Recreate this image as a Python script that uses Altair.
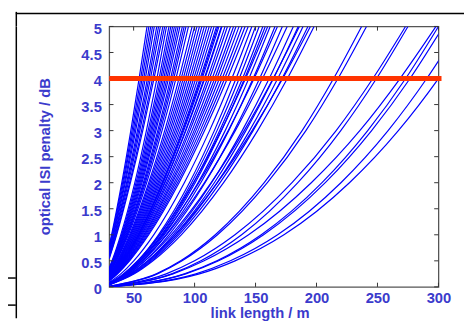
import altair as alt
import pandas as pd

# ---- curve data -----------------------------------------------------------
# each curve: penalty (dB) at 30 m, then the link length (m) at which it
# reaches 0.25, 0.5, 1, 2, 3, 4 and 5 dB (None = already above that level)
curve_y0 = [0.80, 0.76, 0.73, 0.70, 0.67, 0.63, 0.61, 0.59, 0.56, 0.54,
            0.37, 0.35, 0.34, 0.32, 0.31, 0.30, 0.29, 0.28, 0.27, 0.26, 0.25, 0.24,
            0.23, 0.22, 0.21, 0.21, 0.20, 0.19, 0.19, 0.18, 0.17, 0.17, 0.16, 0.15,
            0.16, 0.16, 0.15, 0.15, 0.14, 0.14, 0.13, 0.13, 0.13, 0.12, 0.12, 0.11,
            0.064, 0.061, 0.059, 0.058, 0.055, 0.052, 0.049,
            0.044, 0.043, 0.041, 0.039, 0.037,
            0.086, 0.073, 0.067, 0.062, 0.056, 0.051,
            0.011, 0.010, 0.008, 0.0065, 0.0033, 0.003, 0.002, 0.002, 0.0056]
curve_x025 = [None] * 22 + [
            30.6, 30.9, 31.1, 31.4, 31.7, 31.9, 32.2, 32.5, 32.8, 33.0, 33.4, 33.8,
            33.3, 33.6, 33.9, 34.2, 34.5, 34.9, 35.2, 35.5, 35.8, 36.1, 36.5, 36.8,
            42.3, 42.8, 43.4, 43.7, 44.4, 45.1, 46.1,
            47.6, 48.3, 49.0, 49.7, 50.6,
            39.5, 41.5, 42.8, 44.0, 45.5, 46.9,
            68.6, 69.5, 76.7, 82.3, 91.7, 92.7, 101.1, 103.9, 81.2]
curve_x05 = [None] * 10 + [
            32.3, 32.7, 33.0, 33.3, 33.7, 34.0, 34.3, 34.6, 35.1, 35.4, 35.7, 36.1,
            36.8, 37.2, 37.6, 38.1, 38.5, 38.9, 39.4, 39.8, 40.2, 40.6, 41.3, 41.9,
            41.1, 41.5, 42.0, 42.6, 43.0, 43.5, 44.1, 44.5, 45.0, 45.6, 46.1, 46.7,
            53.5, 54.3, 55.1, 55.6, 56.6, 57.7, 59.2,
            61.5, 62.6, 63.6, 64.6, 65.9,
            50.1, 53.2, 55.1, 57.0, 59.3, 61.5,
            88.6, 89.8, 100.0, 107.8, 118.3, 119.7, 129.4, 133.2, 105.2]
curve_x1 = [31.9, 32.3, 32.8, 33.2, 33.6, 34.2, 34.6, 35.1, 35.7, 36.1,
            39.5, 40.2, 40.7, 41.2, 41.7, 42.2, 42.7, 43.3, 43.9, 44.5, 45.0, 45.7,
            46.7, 47.4, 48.0, 48.7, 49.4, 50.1, 50.8, 51.5, 52.1, 52.8, 53.9, 54.9,
            53.5, 54.2, 55.1, 55.9, 56.6, 57.4, 58.3, 59.0, 59.8, 60.7, 61.6, 62.4,
            70.4, 71.6, 72.8, 73.5, 75.1, 76.6, 79.0,
            82.5, 84.0, 85.6, 87.1, 89.1,
            66.5, 71.2, 74.2, 77.1, 80.8, 84.1,
            117.0, 118.8, 133.1, 144.3, 154.7, 156.6, 168.1, 173.3, 138.6]
curve_x2 = [40.3, 41.0, 41.7, 42.5, 43.2, 44.2, 44.9, 45.7, 46.7, 47.4,
            51.0, 52.0, 52.9, 53.7, 54.5, 55.3, 56.1, 56.9, 58.0, 58.8, 59.6, 60.7,
            62.4, 63.4, 64.5, 65.6, 66.7, 67.8, 68.9, 70.0, 71.0, 72.1, 73.8, 75.4,
            73.2, 74.3, 75.7, 77.0, 78.1, 79.5, 80.8, 81.9, 83.3, 84.6, 86.0, 87.3,
            95.8, 97.5, 99.3, 100.5, 102.8, 105.1, 108.6,
            113.9, 116.2, 118.5, 120.9, 123.8,
            91.6, 99.0, 103.5, 108.0, 113.6, 118.7,
            157.1, 159.7, 179.9, 195.7, 204.5, 207.2, 220.0, 227.0, 184.7]
curve_x3 = [47.7, 48.7, 49.7, 50.7, 51.7, 53.1, 54.1, 55.1, 56.5, 57.5,
            60.5, 61.9, 63.0, 64.1, 65.1, 66.2, 67.3, 68.3, 69.8, 70.8, 71.9, 73.3,
            75.5, 76.9, 78.3, 79.7, 81.1, 82.6, 84.0, 85.4, 86.8, 88.3, 90.4, 92.5,
            89.7, 91.1, 92.9, 94.7, 96.1, 97.9, 99.6, 101.1, 102.8, 104.6, 106.4, 108.2,
            116.2, 118.4, 120.6, 122.1, 125.1, 128.0, 132.5,
            139.1, 142.1, 145.1, 148.0, 151.7,
            112.3, 121.8, 127.6, 133.4, 140.7, 147.2,
            188.2, 191.3, 216.1, 235.5, 242.0, 245.2, 258.7, 267.1, 219.9]
curve_x4 = [54.5, 55.8, 57.0, 58.3, 59.6, 61.3, 62.5, 63.8, 65.5, 66.7,
            69.1, 70.9, 72.2, 73.4, 74.7, 76.0, 77.3, 78.6, 80.3, 81.6, 82.9, 84.7,
            87.2, 89.0, 90.7, 92.4, 94.1, 95.9, 97.6, 99.3, 101.0, 102.8, 105.3, 107.9,
            104.5, 106.2, 108.4, 110.5, 112.2, 114.4, 116.5, 118.3, 120.4, 122.6, 124.7, 126.9,
            134.0, 136.6, 139.3, 141.0, 144.5, 148.0, 153.3,
            161.2, 164.7, 168.2, 171.7, 176.1,
            130.5, 141.8, 148.8, 155.7, 164.4, 172.3,
            214.0, 217.6, 246.2, 268.5, 273.1, 276.7, 290.4, 300.0, 249.2]
curve_x5 = [61, 62.5, 64, 65.5, 67, 69, 70.5, 72, 74, 75.5,
            77, 79, 80.5, 82, 83.5, 85, 86.5, 88, 90, 91.5, 93, 95,
            98, 100, 102, 104, 106, 108, 110, 112, 114, 116, 119, 122,
            118, 120, 122.5, 125, 127, 129.5, 132, 134, 136.5, 139, 141.5, 144,
            150, 153, 156, 158, 162, 166, 172,
            181, 185, 189, 193, 198,
            147, 160, 168, 176, 186, 195,
            237, 241, 273, 298, 300, 304, 318, 328.5, 275]

level_penalty = [0.25, 0.5, 1, 2, 3, 4, 5]
start_length = 30

x_ticks = [50, 100, 150, 200, 250, 300]
y_ticks = [0, 0.5, 1, 1.5, 2, 2.5, 3, 3.5, 4, 4.5, 5]
x_domain = [30, 300]
y_domain = [0, 5]

threshold_penalty = 4.0
threshold_start = 30
threshold_end = 302.5

# ---- build tables -----------------------------------------------------------
rows = []
cols = [curve_x025, curve_x05, curve_x1, curve_x2, curve_x3, curve_x4, curve_x5]
for i, y0 in enumerate(curve_y0):
    rows.append({"curve": i, "length": start_length, "penalty": y0})
    for lvl, col in zip(level_penalty, cols):
        if col[i] is not None:
            rows.append({"curve": i, "length": col[i], "penalty": lvl})
curves = pd.DataFrame(rows)

BLUE_TXT = "#3b3bcc"
FONT = "Liberation Sans"
TICK_C = "#333333"
TICK_LEN_Y = 0.08   # inward tick length in dB units (~4 px)
TICK_LEN_X = 3.5    # inward tick length in m units (~4 px)

xs = alt.Scale(domain=x_domain, nice=False, zero=False)
ys = alt.Scale(domain=y_domain, nice=False, zero=False)

x_axis = alt.Axis(values=x_ticks, ticks=False, domain=False, grid=False,
                  labelFont=FONT, labelFontWeight="bold", labelFontSize=15,
                  labelColor=BLUE_TXT, labelPadding=4, labelFlush=False,
                  labelOverlap=False,
                  title="link length / m", titleFont=FONT, titleFontWeight="bold",
                  titleFontSize=15, titleColor=BLUE_TXT, titleX=153, titleY=31,
                  titleAlign="center", titleBaseline="alphabetic")
y_axis = alt.Axis(values=y_ticks, ticks=False, domain=False, grid=False, format="~g",
                  labelFont=FONT, labelFontWeight="bold", labelFontSize=15,
                  labelColor=BLUE_TXT, labelPadding=8, labelBaseline="middle",
                  labelOffset=2, labelFlush=False, labelOverlap=False,
                  title="optical ISI penalty / dB", titleFont=FONT,
                  titleFontWeight="bold", titleFontSize=15, titleColor=BLUE_TXT,
                  titleX=-61, titleY=132, titleAngle=270, titleAlign="center",
                  titleBaseline="alphabetic")


def X(f):
    return alt.X(f, scale=xs, axis=x_axis)


def Y(f):
    return alt.Y(f, scale=ys, axis=y_axis)


lines = alt.Chart(curves).mark_line(
    color="#0000ff", strokeWidth=1.2, clip=True, interpolate="monotone"
).encode(
    x=X("length:Q"),
    y=Y("penalty:Q"),
    detail="curve:N",
    order="length:Q",
)

xt = pd.DataFrame({"length": x_ticks})
xt["lo"] = y_domain[0]
xt["lo2"] = y_domain[0] + TICK_LEN_Y
xt["hi"] = y_domain[1]
xt["hi2"] = y_domain[1] - TICK_LEN_Y
yt = pd.DataFrame({"penalty": y_ticks})
yt["lo"] = x_domain[0]
yt["lo2"] = x_domain[0] + TICK_LEN_X
yt["hi"] = x_domain[1]
yt["hi2"] = x_domain[1] - TICK_LEN_X

tk = dict(color=TICK_C, strokeWidth=1)
tick_b = alt.Chart(xt).mark_rule(**tk).encode(x=X("length:Q"), y=Y("lo:Q"), y2="lo2:Q")
tick_t = alt.Chart(xt).mark_rule(**tk).encode(x=X("length:Q"), y=Y("hi:Q"), y2="hi2:Q")
tick_l = alt.Chart(yt).mark_rule(**tk).encode(y=Y("penalty:Q"), x=X("lo:Q"), x2="lo2:Q")
tick_r = alt.Chart(yt).mark_rule(**tk).encode(y=Y("penalty:Q"), x=X("hi:Q"), x2="hi2:Q")

thr = pd.DataFrame({"length": [threshold_start], "end": [threshold_end],
                    "penalty": [threshold_penalty]})
red = alt.Chart(thr).mark_rule(color="#ff3300", strokeWidth=5, clip=False).encode(
    x=X("length:Q"), x2="end:Q", y=Y("penalty:Q"))

# page-frame lines of the source document (outside the plot area)
frame = pd.DataFrame({
    "fx1": [-46.6, -46.2, -46.2, -53.0, -53.0],
    "fx2": [321.0, -46.2, -46.2, -46.6, -46.6],
    "fy1": [5.25, 5.0, 5.28, 0.17, -0.35],
    "fy2": [5.25, -0.6, 5.0, 0.17, -0.35],
})
f_lines = alt.Chart(frame).mark_rule(color="#000000", strokeWidth=1.5, clip=False).encode(
    x=X("fx1:Q"), x2="fx2:Q", y=Y("fy1:Q"), y2="fy2:Q")

chart = alt.layer(
    lines, tick_b, tick_t, tick_l, tick_r, red, f_lines
).properties(
    width=335, height=265,
    autosize=alt.AutoSizeParams(type="none"),
    padding={"left": 103, "top": 16, "right": 26, "bottom": 35},
    background="white",
).configure_view(stroke="#555555", strokeWidth=1.3)

chart.save("out.html", embed_options={"renderer": "svg", "actions": False})
